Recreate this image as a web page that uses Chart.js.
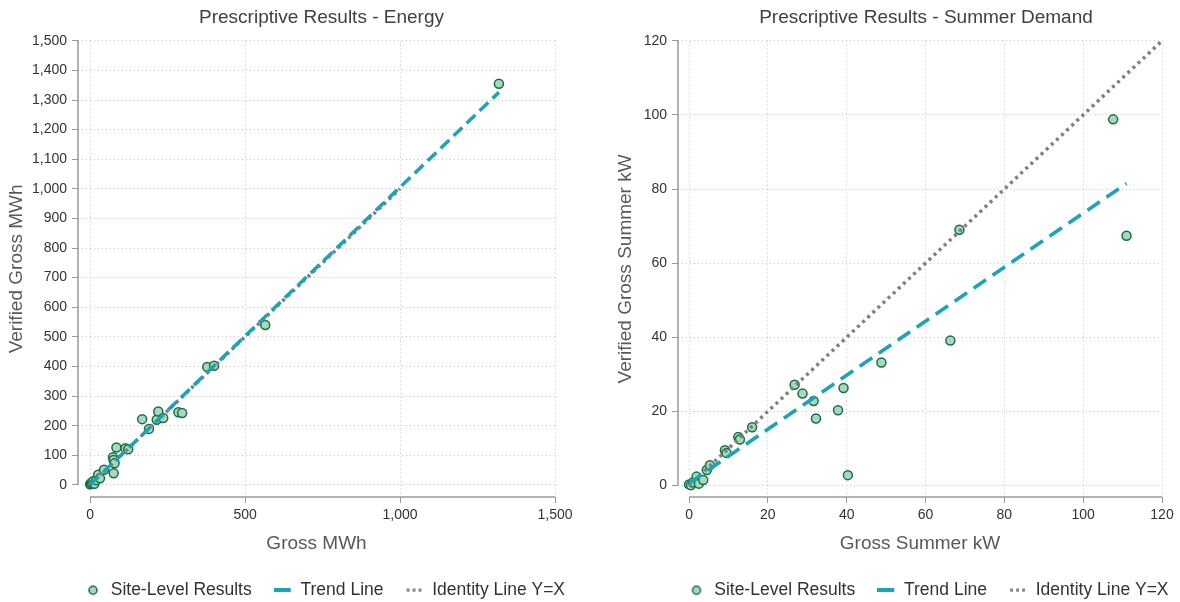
<!DOCTYPE html>
<html>
<head>
<meta charset="utf-8">
<script src="https://cdn.jsdelivr.net/npm/chart.js@4.4.1/dist/chart.umd.min.js"></script>
<style>
  html, body { margin: 0; padding: 0; background: #fff; }
  #wrap { position: relative; width: 1180px; height: 602px; }
  canvas { position: absolute; top: 0; }
  #energyChart { left: 0; }
  #demandChart { left: 590px; }
</style>
</head>
<body>
<div id="wrap">
  <canvas id="energyChart" width="590" height="602"></canvas>
  <canvas id="demandChart" width="590" height="602"></canvas>
</div>
<script>
Chart.defaults.font.family = "'Liberation Sans', Arial, sans-serif";
Chart.defaults.color = '#333';

const seriesNames = ['Site-Level Results', 'Trend Line', 'Identity Line Y=X'];

/* Energy panel (MWh) */
const energyGross    = [0, 3, 6, 10, 14, 20, 26, 32, 45, 74, 76, 79, 76, 85, 114, 123, 168, 190, 215, 220, 236, 285, 297, 378, 400, 565, 1319];
const energyVerified = [2, 5, 8, 12, 4, 16, 34, 22, 51, 93, 84, 73, 39, 126, 124, 120, 222, 189, 220, 248, 226, 245, 243, 398, 402, 540, 1355];
const energyTrendX   = [0, 1319];
const energyTrendY   = [0, 1326];
const energyIdentity = [0, 1000];
const energyXTicks   = [0, 500, 1000, 1500];
const energyYTicks   = [0, 100, 200, 300, 400, 500, 600, 700, 800, 900, 1000, 1100, 1200, 1300, 1400, 1500];

/* Summer demand panel (kW) */
const demandGross    = [0, 0.5, 1, 1.9, 2.5, 3.6, 4.5, 5.3, 9.1, 9.5, 12.5, 12.9, 16, 26.8, 28.8, 31.6, 32.2, 37.8, 39.2, 40.3, 48.8, 66.3, 68.6, 107.6, 111];
const demandVerified = [0.3, 0.1, 0.8, 2.4, 0.5, 1.5, 4.2, 5.5, 9.5, 8.8, 13.1, 12.4, 15.7, 27.2, 24.8, 22.8, 18.1, 20.3, 26.3, 2.8, 33.2, 39.1, 69.0, 98.8, 67.4];
const demandTrendX   = [0, 111];
const demandTrendY   = [0.6, 81.5];
const demandIdentity = [0, 120];
const demandXTicks   = [0, 20, 40, 60, 80, 100, 120];
const demandYTicks   = [0, 20, 40, 60, 80, 100, 120];

const TEAL = '#1ba3b6';
const GRAY = '#7f7f7f';
const DOT_FILL = '#a3d9bd';
const DOT_EDGE = '#1c6b41';

function pts(xs, ys) {
  return xs.map((x, i) => ({ x: x, y: ys[i] }));
}

// small canvases used as legend symbols
function legendIcon(kind) {
  const c = document.createElement('canvas');
  const g = c.getContext('2d');
  if (kind === 'dot') {
    c.width = 12; c.height = 12;
    g.beginPath();
    g.arc(6, 6, 4, 0, Math.PI * 2);
    g.fillStyle = DOT_FILL; g.fill();
    g.lineWidth = 1.5; g.strokeStyle = DOT_EDGE; g.stroke();
  } else if (kind === 'dash') {
    c.width = 18; c.height = 4;
    g.fillStyle = TEAL;
    g.fillRect(0, 0, 17, 4);
  } else {
    c.width = 18; c.height = 4;
    g.fillStyle = GRAY;
    [1, 7, 13].forEach(x => g.fillRect(x, 0.5, 3, 3));
  }
  return c;
}
const icons = [legendIcon('dot'), legendIcon('dash'), legendIcon('dots')];

// Stata-style axis lines that only span the tick range
const axisLines = {
  id: 'axisLines',
  afterDraw(chart) {
    const { ctx, chartArea, scales: { x, y } } = chart;
    const xt = x.ticks, yt = y.ticks;
    ctx.save();
    ctx.strokeStyle = '#9a9a9a';
    ctx.lineWidth = 1.5;
    ctx.beginPath();
    ctx.moveTo(x.getPixelForValue(xt[0].value), chartArea.bottom);
    ctx.lineTo(x.getPixelForValue(xt[xt.length - 1].value), chartArea.bottom);
    ctx.moveTo(chartArea.left, y.getPixelForValue(yt[0].value));
    ctx.lineTo(chartArea.left, y.getPixelForValue(yt[yt.length - 1].value));
    ctx.stroke();
    ctx.restore();
  }
};

// center title / legend over the plot region instead of the canvas
const shiftBoxes = {
  id: 'shiftBoxes',
  afterLayout(chart, args, opts) {
    const t = chart.titleBlock, l = chart.legend;
    t.left += opts.titleDx; t.right += opts.titleDx;
    l.left += opts.legendDx; l.right += opts.legendDx;
    l.top += opts.legendDy; l.bottom += opts.legendDy;
  }
};

function makePanel(id, p) {
  return new Chart(document.getElementById(id), {
    type: 'scatter',
    data: {
      datasets: [
        {
          label: seriesNames[0],
          data: pts(p.gross, p.verified),
          order: 3,
          pointRadius: 4.5,
          pointBorderWidth: 1.5,
          pointBackgroundColor: DOT_FILL,
          pointBorderColor: DOT_EDGE
        },
        {
          label: seriesNames[1],
          data: pts(p.trendX, p.trendY),
          order: 1,
          showLine: true,
          pointRadius: 0,
          borderColor: TEAL,
          borderWidth: 3.5,
          borderDash: p.trendDash
        },
        {
          label: seriesNames[2],
          data: pts(p.identity, p.identity),
          order: 2,
          showLine: true,
          pointRadius: 0,
          borderColor: GRAY,
          borderWidth: 3.5,
          borderDash: [3, 4]
        }
      ]
    },
    options: {
      responsive: false,
      animation: false,
      devicePixelRatio: 1,
      layout: { padding: { left: 0, right: p.padRight, top: 0, bottom: 0 } },
      scales: {
        x: {
          type: 'linear',
          min: p.xMin,
          max: p.xTicks[p.xTicks.length - 1],
          afterBuildTicks: s => { s.ticks = p.xTicks.map(v => ({ value: v })); },
          afterFit: s => { s.height = 55.5; },
          border: { display: false, dash: [1, 3] },
          grid: { color: '#c4c4c4', lineWidth: 1, tickLength: 6, tickColor: '#9a9a9a', tickWidth: 1, tickBorderDash: [] },
          ticks: { padding: 4, font: { size: 14 }, color: '#333', callback: v => v.toLocaleString('en-US') },
          title: { display: true, text: p.xTitle, font: { size: 19 }, color: '#595959', padding: { top: 4, bottom: -3 } }
        },
        y: {
          type: 'linear',
          min: p.yMin,
          max: p.yTicks[p.yTicks.length - 1],
          afterBuildTicks: s => { s.ticks = p.yTicks.map(v => ({ value: v })); },
          afterFit: s => { s.width = p.yWidth; },
          border: { display: false, dash: [1, 3] },
          grid: { color: '#c4c4c4', lineWidth: 1, tickLength: 6, tickColor: '#9a9a9a', tickWidth: 1, tickBorderDash: [] },
          ticks: { padding: 5, font: { size: 14 }, color: '#333', callback: v => v.toLocaleString('en-US') },
          title: { display: true, text: p.yTitle, font: { size: 19 }, color: '#595959', padding: { top: p.yTitlePad, bottom: 0 } }
        }
      },
      plugins: {
        title: {
          display: true,
          text: p.title,
          font: { size: 19, weight: 'normal' },
          color: '#404040',
          padding: { top: 6, bottom: 12 }
        },
        legend: {
          position: 'bottom',
          labels: {
            usePointStyle: true,
            pointStyleWidth: 18,
            padding: 22,
            font: { size: 17.5 },
            color: '#333',
            generateLabels: chart => chart.data.datasets.map((ds, i) => ({
              text: ds.label,
              pointStyle: icons[i],
              fillStyle: 'rgba(0,0,0,0)',
              strokeStyle: 'rgba(0,0,0,0)',
              lineWidth: 0,
              hidden: false,
              datasetIndex: i,
              fontColor: '#333'
            }))
          }
        },
        tooltip: { enabled: false },
        shiftBoxes: p.shift
      }
    },
    plugins: [axisLines, shiftBoxes]
  });
}

makePanel('energyChart', {
  title: 'Prescriptive Results - Energy',
  xTitle: 'Gross MWh',
  yTitle: 'Verified Gross MWh',
  gross: energyGross, verified: energyVerified,
  trendX: energyTrendX, trendY: energyTrendY,
  identity: energyIdentity,
  xTicks: energyXTicks, yTicks: energyYTicks,
  xMin: -39, yMin: -41,
  yWidth: 78, yTitlePad: 5, padRight: 35,
  trendDash: [12, 6],
  shift: { titleDx: 44, legendDx: 47, legendDy: 7 }
});

makePanel('demandChart', {
  title: 'Prescriptive Results - Summer Demand',
  xTitle: 'Gross Summer kW',
  yTitle: 'Verified Gross Summer kW',
  gross: demandGross, verified: demandVerified,
  trendX: demandTrendX, trendY: demandTrendY,
  identity: demandIdentity,
  xTicks: demandXTicks, yTicks: demandYTicks,
  xMin: -2.8, yMin: -3.1,
  yWidth: 88, yTitlePad: 24, padRight: 18,
  trendDash: [15, 8],
  shift: { titleDx: 50, legendDx: 52, legendDy: 7 }
});
</script>
</body>
</html>
